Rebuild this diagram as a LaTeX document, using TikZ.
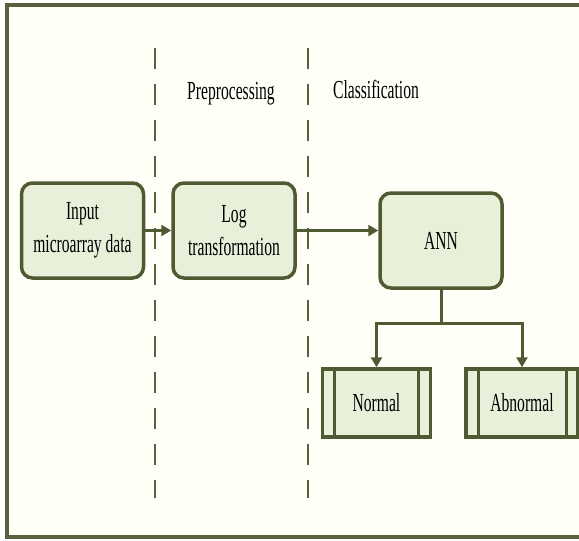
\documentclass[tikz,border=0pt]{standalone}
\usepackage{fontspec}
\setmainfont{Liberation Serif}[FakeStretch=0.6]
\usetikzlibrary{arrows.meta,calc}
\definecolor{olive}{HTML}{505A32}
\definecolor{frame}{HTML}{59603F}
\definecolor{boxfill}{HTML}{E9F0DA}
\tikzset{
    stage/.style={draw=olive, fill=boxfill, line width=3.5pt, rounded corners=11pt,
        minimum width=122pt, minimum height=95pt, align=center,
        font=\fontsize{26}{33}\selectfont},
    result/.style={draw=olive, fill=boxfill, line width=3.5pt,
        minimum width=108pt, minimum height=68pt,
        font=\fontsize{26}{33}\selectfont,
        path picture={
            \draw[olive, line width=3pt]
            ([xshift=12pt]path picture bounding box.north west) -- ([xshift=12pt]path picture bounding box.south west)
            ([xshift=-12pt]path picture bounding box.north east) -- ([xshift=-12pt]path picture bounding box.south east);}},
    link/.style={draw=olive, line width=3pt, -{Triangle[length=10pt,width=11pt]}},
    phase/.style={draw=frame, line width=2.5pt, dash pattern=on 21pt off 15pt}
}
\begin{document}
\begin{tikzpicture}[x=1pt,y=-1pt]
        \clip (0,0) rectangle (579,541);
        \draw[frame, fill=white!97!yellow, line width=4pt] (7,5) rectangle (590,537);
        % phase separators
        \foreach \x in {155,308}
            \draw[phase] (\x,48) -- (\x,498);
        \node[anchor=base] (pre) at (231,99) {\fontsize{26}{30}\selectfont Preprocessing};
        \node[anchor=base] (cls) at (376,98) {\fontsize{26}{30}\selectfont Classification};
        \node[stage] (input) at (82.5,230.5) {Input\\microarray data};
        \node[stage] (log) at (234,230.5) {Log\\transformation};
        \node[stage] (ann) at (441,240.5) {ANN};
        \node[result] (normal) at (376.5,403) {Normal};
        \node[result, minimum width=112pt] (abnormal) at (522,403) {Abnormal};
        \coordinate (fork) at ($(ann.south)+(0,34)$);
        \draw[link] (input) -- (log);
        \draw[link] (log.east) -- (log.east -| ann.west);
        \draw[link] (ann.south) -- (fork) -| (normal.north);
        \draw[link] (fork) -| (abnormal.north);
    \end{tikzpicture}
\end{document}
